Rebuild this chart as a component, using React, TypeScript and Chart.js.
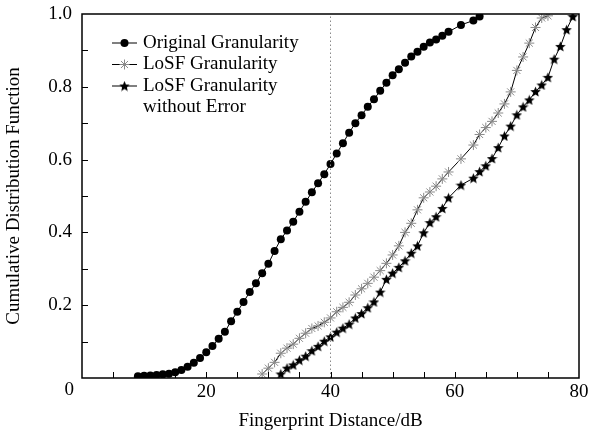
import React, { useEffect, useRef } from 'react';
import { Chart, registerables } from 'chart.js';

Chart.register(...registerables);

// ---------- data ----------
const originalX = [9, 10, 11, 12, 13, 14, 15, 16, 17, 18, 19, 20, 21, 22, 23, 24, 25, 26, 27, 28, 29, 30, 31, 32, 33, 34, 35, 36, 37, 38, 39, 40, 41, 42, 43, 44, 45, 46, 47, 48, 49, 50, 51, 52, 53, 54, 55, 56, 57, 58, 59, 61, 63, 64];
const originalY = [0.005, 0.006, 0.007, 0.008, 0.010, 0.012, 0.016, 0.022, 0.031, 0.042, 0.055, 0.071, 0.088, 0.108, 0.127, 0.156, 0.182, 0.209, 0.236, 0.260, 0.288, 0.314, 0.349, 0.381, 0.405, 0.429, 0.457, 0.484, 0.510, 0.535, 0.560, 0.588, 0.617, 0.645, 0.674, 0.700, 0.722, 0.745, 0.766, 0.789, 0.811, 0.832, 0.848, 0.866, 0.883, 0.896, 0.910, 0.922, 0.930, 0.940, 0.951, 0.970, 0.982, 0.993];

const losfX = [29, 30, 31, 32, 33, 34, 35, 36, 37, 38, 39, 40, 41, 42, 43, 44, 45, 46, 47, 48, 49, 50, 51, 52, 53, 54, 55, 56, 57, 58, 59, 61, 63, 64, 65, 66, 67, 68, 69, 70, 71, 72, 73, 74, 75];
const losfY = [0.011, 0.027, 0.043, 0.068, 0.082, 0.093, 0.109, 0.123, 0.136, 0.143, 0.153, 0.165, 0.182, 0.194, 0.208, 0.228, 0.245, 0.260, 0.277, 0.295, 0.315, 0.338, 0.363, 0.400, 0.425, 0.462, 0.495, 0.511, 0.527, 0.547, 0.566, 0.602, 0.640, 0.669, 0.688, 0.705, 0.728, 0.753, 0.786, 0.845, 0.882, 0.920, 0.963, 0.989, 0.995];

const losfNoErrX = [32, 33, 34, 35, 36, 37, 38, 39, 40, 41, 42, 43, 44, 45, 46, 47, 48, 49, 50, 51, 52, 53, 54, 55, 56, 57, 58, 59, 61, 63, 64, 65, 66, 67, 68, 69, 70, 71, 72, 73, 74, 75, 76, 77, 78, 79];
const losfNoErrY = [0.011, 0.027, 0.036, 0.049, 0.060, 0.075, 0.087, 0.101, 0.113, 0.126, 0.137, 0.148, 0.165, 0.177, 0.193, 0.209, 0.236, 0.271, 0.288, 0.304, 0.322, 0.343, 0.363, 0.399, 0.427, 0.443, 0.466, 0.495, 0.530, 0.549, 0.567, 0.583, 0.603, 0.633, 0.665, 0.692, 0.723, 0.745, 0.764, 0.787, 0.805, 0.826, 0.876, 0.911, 0.957, 0.993];

const seriesNames = ['Original Granularity', 'LoSF Granularity', 'LoSF Granularity without Error'];
const legendLines = [['Original Granularity'], ['LoSF Granularity'], ['LoSF Granularity', 'without Error']];
const referenceX = 40;
const xMin = 0, xMax = 80, xMajorStep = 20, xMinorStep = 5;
const yMin = 0, yMax = 1, yMajorStep = 0.2, yMinorStep = 0.1;
const originLabel = '0';
const xTitle = 'Fingerprint Distance/dB';
const yTitle = 'Cumulative Distribution Function';

const FONT = "'Liberation Serif', 'Times New Roman', serif";
const GRAY = '#8a8a8a';

function makeStar(size: number): HTMLCanvasElement {
  const c = document.createElement('canvas');
  c.width = size;
  c.height = size;
  const g = c.getContext('2d')!;
  const cx = size / 2, cy = size / 2 + size * 0.05;
  const ro = size / 2, ri = ro * 0.45;
  g.beginPath();
  for (let i = 0; i < 10; i++) {
    const r = i % 2 === 0 ? ro : ri;
    const a = -Math.PI / 2 + (i * Math.PI) / 5;
    const px = cx + r * Math.cos(a), py = cy + r * Math.sin(a);
    if (i === 0) g.moveTo(px, py); else g.lineTo(px, py);
  }
  g.closePath();
  g.fillStyle = '#000';
  g.fill();
  return c;
}

function toPoints(xs: number[], ys: number[]) {
  return xs.map((x, i) => ({ x, y: ys[i] }));
}

function zeroPad(s: any) {
  s.paddingTop = 0;
  s.paddingBottom = 0;
  s.paddingLeft = 0;
  s.paddingRight = 0;
}

export default function App() {
  const ref = useRef<HTMLCanvasElement>(null);

  useEffect(() => {
    document.body.style.margin = '0';
    const STAR = 11;
    const starImg = makeStar(STAR);

    const decorPlugin = {
      id: 'decor',
      afterDraw(chart: any) {
        const { ctx, chartArea: a, scales } = chart;
        const xs = scales.x, ys = scales.y;
        ctx.save();
        // inward ticks
        ctx.strokeStyle = '#000';
        ctx.lineWidth = 1;
        ctx.beginPath();
        for (let v = xMin + xMinorStep; v < xMax; v += xMinorStep) {
          const px = Math.round(xs.getPixelForValue(v)) + 0.5;
          ctx.moveTo(px, a.bottom);
          ctx.lineTo(px, a.bottom - 6);
        }
        for (let k = 1; k * yMinorStep < yMax - 1e-9; k++) {
          const py = Math.round(ys.getPixelForValue(k * yMinorStep)) + 0.5;
          ctx.moveTo(a.left, py);
          ctx.lineTo(a.left + 6, py);
        }
        ctx.stroke();
        // frame
        ctx.lineWidth = 1.5;
        ctx.strokeRect(a.left, a.top, a.right - a.left, a.bottom - a.top);
        // origin label
        ctx.fillStyle = '#000';
        ctx.font = `19px ${FONT}`;
        ctx.textAlign = 'right';
        ctx.textBaseline = 'middle';
        ctx.fillText(originLabel, a.left - 8, a.bottom + 12);
        // legend
        const lx0 = a.left + 30, lx1 = a.left + 55, lmx = (lx0 + lx1) / 2, tx = a.left + 61;
        const rowH = 21.5;
        let row = 0;
        legendLines.forEach((lines, si) => {
          const yRow = a.top + 29 + row * rowH;
          ctx.strokeStyle = '#000';
          ctx.lineWidth = 1;
          ctx.beginPath();
          ctx.moveTo(lx0, yRow);
          ctx.lineTo(lx1, yRow);
          ctx.stroke();
          if (si === 0) {
            ctx.fillStyle = '#000';
            ctx.beginPath();
            ctx.arc(lmx, yRow, 4, 0, Math.PI * 2);
            ctx.fill();
          } else if (si === 1) {
            ctx.strokeStyle = GRAY;
            ctx.beginPath();
            const r = 5;
            for (let k = 0; k < 4; k++) {
              const ang = (k * Math.PI) / 4;
              ctx.moveTo(lmx - r * Math.cos(ang), yRow - r * Math.sin(ang));
              ctx.lineTo(lmx + r * Math.cos(ang), yRow + r * Math.sin(ang));
            }
            ctx.stroke();
          } else {
            ctx.drawImage(starImg, lmx - STAR / 2, yRow - STAR / 2, STAR, STAR);
          }
          ctx.fillStyle = '#000';
          ctx.textAlign = 'left';
          ctx.textBaseline = 'middle';
          lines.forEach((t) => {
            ctx.fillText(t, tx, a.top + 29 + row * rowH);
            row++;
          });
        });
        ctx.restore();
      },
    };

    const chart = new Chart(ref.current!, {
      type: 'line',
      data: {
        datasets: [
          {
            label: 'ref',
            data: [{ x: referenceX, y: yMin }, { x: referenceX, y: yMax }],
            borderColor: GRAY,
            borderWidth: 1,
            borderDash: [1.5, 2.5],
            pointRadius: 0,
          },
          {
            label: seriesNames[0],
            data: toPoints(originalX, originalY),
            borderColor: '#000',
            borderWidth: 1,
            pointStyle: 'circle',
            pointRadius: 4,
            pointBackgroundColor: '#000',
            pointBorderColor: '#000',
            pointBorderWidth: 0,
          },
          {
            label: seriesNames[1],
            data: toPoints(losfX, losfY),
            borderColor: '#000',
            borderWidth: 1,
            pointStyle: 'star',
            pointRadius: 5,
            pointBorderColor: GRAY,
            pointBackgroundColor: GRAY,
            pointBorderWidth: 1,
          },
          {
            label: seriesNames[2],
            data: toPoints(losfNoErrX, losfNoErrY),
            borderColor: '#000',
            borderWidth: 1,
            pointStyle: starImg as any,
            pointRadius: 5.5,
          },
        ],
      },
      options: {
        animation: false,
        responsive: false,
        parsing: false as any,
        layout: { padding: { left: 0, top: 14, right: 10, bottom: 0 } },
        plugins: { legend: { display: false }, tooltip: { enabled: false } },
        elements: { line: { tension: 0 } },
        scales: {
          x: {
            type: 'linear',
            min: xMin,
            max: xMax,
            grid: { display: false, drawTicks: false },
            border: { display: false },
            ticks: {
              stepSize: xMajorStep,
              padding: 3,
              color: '#000',
              font: { family: FONT, size: 19 },
              callback: (v: any) => (Number(v) === 0 ? '' : String(v)),
            },
            title: {
              display: true,
              text: xTitle,
              color: '#000',
              font: { family: FONT, size: 19 },
              padding: { top: 0, bottom: 5 },
            },
            afterFit: (s: any) => { s.height = 59; zeroPad(s); },
          },
          y: {
            type: 'linear',
            min: yMin,
            max: yMax,
            grid: { display: false, drawTicks: false },
            border: { display: false },
            ticks: {
              stepSize: yMajorStep,
              padding: 10,
              color: '#000',
              font: { family: FONT, size: 19 },
              callback: (v: any) => (Number(v) === 0 ? '' : Number(v).toFixed(1)),
            },
            title: {
              display: true,
              text: yTitle,
              color: '#000',
              font: { family: FONT, size: 19 },
              padding: { top: 3, bottom: 0 },
            },
            afterFit: (s: any) => { s.width = 82; zeroPad(s); },
          },
        },
      },
      plugins: [decorPlugin],
    });
    return () => chart.destroy();
  }, []);

  return (
    <div style={{ position: 'fixed', left: 0, top: 0, width: 589, height: 437, background: '#fff' }}>
      <canvas ref={ref} width={589} height={437} style={{ display: 'block' }} />
    </div>
  );
}
